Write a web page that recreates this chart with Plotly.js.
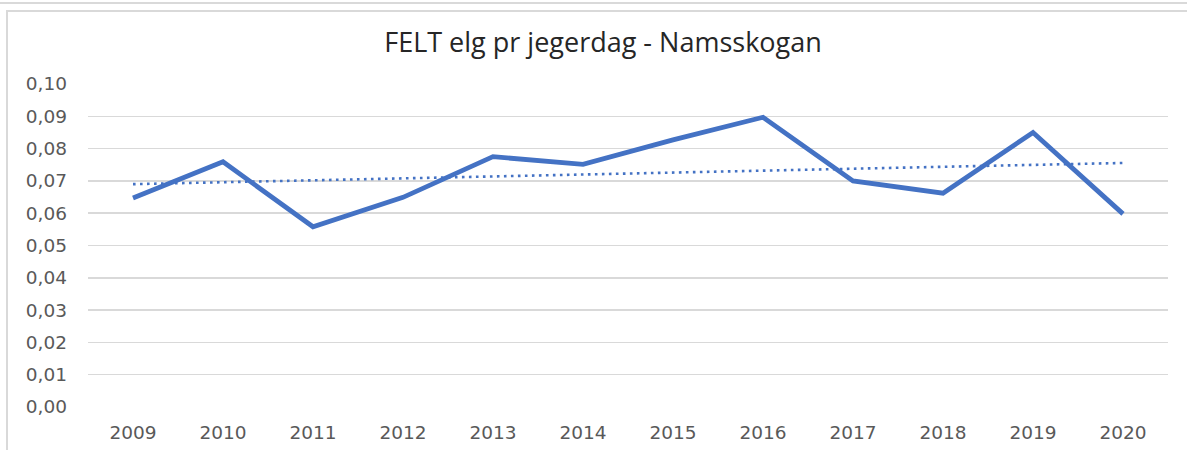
<!DOCTYPE html>
<html>
<head>
<meta charset="utf-8">
<script src="https://cdn.plot.ly/plotly-3.0.1.min.js"></script>
<style>
html,body{margin:0;padding:0;background:#fff;}
#wrap{position:relative;width:1187px;height:450px;overflow:hidden;}
#chart{position:absolute;left:0;top:0;width:1187px;height:450px;}
.bd{position:absolute;background:#d9d9d9;pointer-events:none;}
</style>
</head>
<body>
<div id="wrap">
<div id="chart"></div>
<div class="bd" style="left:0;top:2px;width:1187px;height:2px;"></div>
<div class="bd" style="left:6px;top:10px;width:1181px;height:2px;"></div>
<div class="bd" style="left:6px;top:10px;width:2px;height:440px;"></div>
</div>
<script>
const years = ['2009','2010','2011','2012','2013','2014','2015','2016','2017','2018','2019','2020'];
const feltPrJegerdag = [0.0647,0.0759,0.0558,0.0649,0.0775,0.0751,0.0827,0.0897,0.0700,0.0662,0.0850,0.0598];
const yTicks = [0,0.01,0.02,0.03,0.04,0.05,0.06,0.07,0.08,0.09,0.10];

// linear trend (least squares) of the series, as Excel's trendline
const n = feltPrJegerdag.length;
const xs = feltPrJegerdag.map((_, i) => i);
const mx = xs.reduce((a,b)=>a+b,0)/n;
const my = feltPrJegerdag.reduce((a,b)=>a+b,0)/n;
let sxy = 0, sxx = 0;
for (let i=0;i<n;i++){ sxy += (xs[i]-mx)*(feltPrJegerdag[i]-my); sxx += (xs[i]-mx)**2; }
const slope = sxy/sxx, icpt = my - slope*mx;
const trend = xs.map(x => icpt + slope*x);

const tfont = "'Open Sans', 'Noto Sans', sans-serif";
const font = "'DejaVu Sans', sans-serif";
const traces = [
  {x: years, y: trend, type:'scatter', mode:'lines', name:'Lineær',
   line:{color:'#4472C4', width:2.6, dash:'2.6px,4.4px'}, hoverinfo:'skip'},
  {x: years, y: feltPrJegerdag, type:'scatter', mode:'lines', name:'FELT elg pr jegerdag',
   line:{color:'#4472C4', width:4.8}}
];
const layout = {
  width:1187, height:450,
  margin:{l:88, r:19, t:84, b:43},
  paper_bgcolor:'rgba(0,0,0,0)', plot_bgcolor:'#fff',
  showlegend:false,
  separators:', ',
  title:{text:'FELT elg pr jegerdag - Namsskogan', x:0.508, xanchor:'center', y:0.905, yanchor:'middle',
         font:{family:tfont, size:27, color:'#262626'}},
  font:{family:font, color:'#595959', size:18},
  xaxis:{type:'category', range:[-0.5, 11.5], showgrid:false, zeroline:false, showline:false, ticks:'',
         tickfont:{family:font, size:18.5, color:'#595959'}, ticklabelstandoff:12, fixedrange:true},
  yaxis:{range:[0,0.1], tickvals:yTicks, tickformat:'.2f', showgrid:true, gridcolor:'#d9d9d9', gridwidth:1.5,
         zeroline:false, showline:false, ticks:'', tickfont:{family:font, size:18.5, color:'#595959'}, ticklabelstandoff:20, fixedrange:true}
};
Plotly.newPlot('chart', traces, layout, {displayModeBar:false, staticPlot:true});
</script>
</body>
</html>
